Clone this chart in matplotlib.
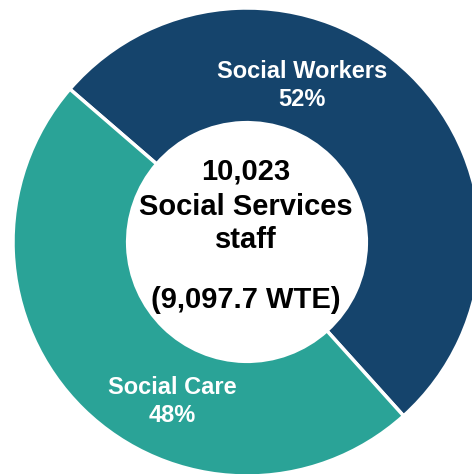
import matplotlib
matplotlib.use("Agg")
import matplotlib.pyplot as plt

categories = ["Social Workers", "Social Care"]
shares = [52, 48]
colors = ["#15446C", "#2AA397"]
center_lines = ["10,023", "Social Services", "staff", "(9,097.7 WTE)"]

W, H = 472, 474
cx, cy, R = 247, 242, 234

plt.rcParams['font.family'] = ['Liberation Sans', 'DejaVu Sans']
fig = plt.figure(figsize=(W / 100, H / 100), dpi=100)
ax = fig.add_axes([0, 0, 1, 1])
ax.pie(shares, colors=colors, radius=1.0, startangle=139.2, counterclock=False,
       wedgeprops=dict(width=0.49, edgecolor="white", linewidth=2.5))
ax.set_xlim(-cx / R, (W - cx) / R)
ax.set_ylim(-(H - cy) / R, cy / R)
ax.set_aspect('auto')
ax.axis('off')

def d(px, py):
    return (px - cx) / R, (cy - py) / R

lab_pos = [(302, 71, 99), (172, 388, 415)]
for cat, s, (px, py1, py2) in zip(categories, shares, lab_pos):
    ax.text(*d(px, py1), cat, color="white", fontsize=17, fontweight="bold",
            ha="center", va="center")
    ax.text(*d(px, py2), f"{s}%", color="white", fontsize=17, fontweight="bold",
            ha="center", va="center")

center_y = [172, 207, 240, 300]
for line, py in zip(center_lines, center_y):
    ax.text(*d(246, py), line, color="black", fontsize=21, fontweight="bold",
            ha="center", va="center")

fig.savefig("out.png", dpi=100)
